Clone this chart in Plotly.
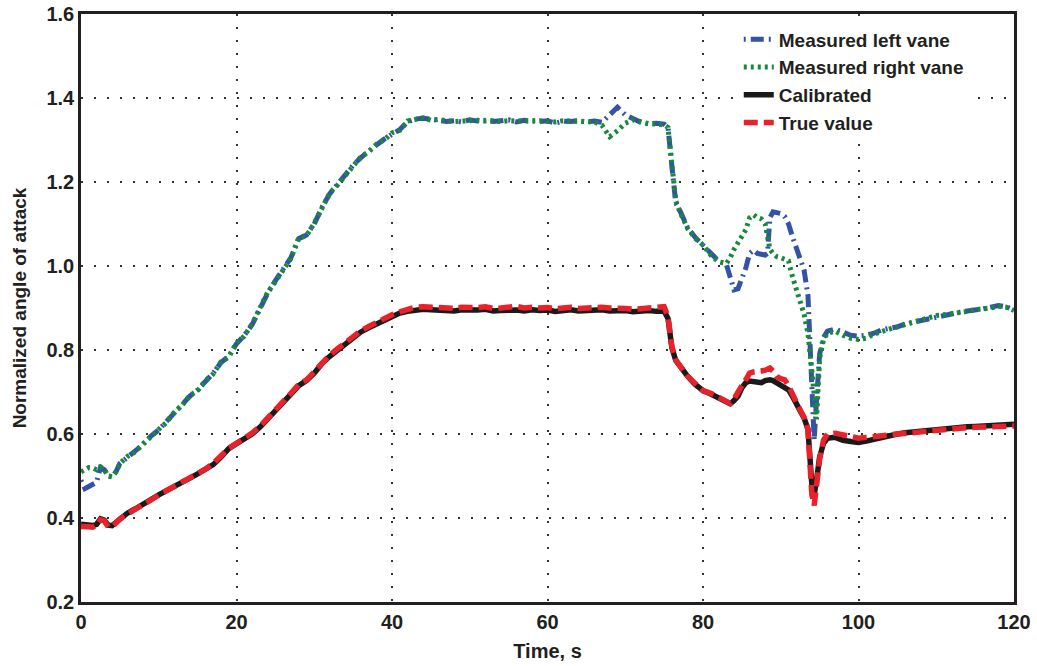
import plotly.graph_objects as go

# time samples (s)
t = [0, 0.5, 1, 1.5, 2, 2.5, 3, 3.5, 4, 4.5, 5,
     6, 7, 8, 9, 10, 11, 12, 13, 14, 15, 16, 17, 18, 19, 20, 21, 22, 23, 24, 25,
     26, 27, 28, 29, 30, 31, 32, 33, 34, 35, 36, 37, 38, 39, 40, 41, 42, 43, 44,
     45, 46, 47, 48, 49, 50, 51, 52, 53, 54, 55, 56, 57, 58, 59, 60, 61, 62, 63, 64,
     65, 66, 67, 68, 69, 70, 71, 72, 73, 74,
     75, 75.5, 76, 76.5, 77, 77.5, 78, 79, 80, 81, 82, 83, 83.5, 84, 84.5, 85, 85.5,
     86, 86.5, 87, 87.5, 88, 88.3, 88.6, 89, 89.5, 90, 90.5, 91, 91.5, 92, 92.5, 93,
     93.5, 94, 94.3, 94.6, 95, 95.5, 96,
     97, 98, 99, 100, 101, 102, 103, 104, 105, 106, 107, 108, 109, 110, 111, 112, 113,
     114, 115, 116, 117, 118, 119, 120]

left_vane = [0.49, 0.47, 0.475, 0.48, 0.485, 0.52, 0.515, 0.50, 0.498, 0.51, 0.53,
             0.545, 0.56, 0.575, 0.595, 0.61, 0.63, 0.65, 0.67, 0.69, 0.705, 0.725, 0.745, 0.77, 0.785,
             0.815, 0.835, 0.86, 0.90, 0.935, 0.965, 0.99, 1.02, 1.065, 1.074, 1.10, 1.14, 1.172, 1.195,
             1.215, 1.24, 1.258, 1.274, 1.288, 1.302, 1.315, 1.325, 1.343, 1.350, 1.352,
             1.349, 1.347, 1.344, 1.346, 1.343, 1.348, 1.345, 1.347, 1.344, 1.346, 1.348, 1.343, 1.347,
             1.345, 1.344, 1.346, 1.340, 1.345, 1.344, 1.346, 1.343, 1.345, 1.342,
             1.360, 1.378, 1.360, 1.350, 1.342, 1.338, 1.340,
             1.338, 1.33, 1.237, 1.150, 1.133, 1.11, 1.092, 1.068, 1.048, 1.028, 1.012, 1.004, 0.975,
             0.943, 0.946, 0.97, 0.995, 1.03, 1.038, 1.030, 1.028, 1.026, 1.03, 1.115, 1.129, 1.128,
             1.125, 1.118, 1.10, 1.07, 1.04, 1.014, 0.99, 0.93, 0.67, 0.585, 0.68, 0.79, 0.83, 0.845,
             0.85, 0.842, 0.835, 0.833, 0.835, 0.84, 0.848, 0.852, 0.855, 0.862, 0.866, 0.872, 0.877,
             0.88, 0.883, 0.887, 0.89, 0.893, 0.895, 0.898, 0.902, 0.906, 0.903, 0.895]

right_vane = [0.51, 0.515, 0.52, 0.519, 0.515, 0.522, 0.515, 0.50, 0.498, 0.51, 0.53,
              0.547, 0.558, 0.577, 0.593, 0.612, 0.628, 0.652, 0.668, 0.692, 0.703, 0.727, 0.743, 0.772,
              0.783, 0.817, 0.833, 0.862, 0.898, 0.937, 0.963, 0.992, 1.018, 1.067, 1.072, 1.102, 1.138,
              1.174, 1.193, 1.217, 1.238, 1.260, 1.272, 1.290, 1.300, 1.317, 1.323, 1.345, 1.348, 1.353,
              1.347, 1.349, 1.346, 1.344, 1.345, 1.346, 1.347, 1.345, 1.346, 1.344, 1.346, 1.345, 1.345,
              1.347, 1.346, 1.344, 1.343, 1.346, 1.345, 1.344, 1.345, 1.343, 1.335,
              1.308, 1.322, 1.340, 1.348, 1.343, 1.339, 1.338,
              1.336, 1.33, 1.24, 1.155, 1.13, 1.108, 1.09, 1.066, 1.05, 1.026, 1.01, 1.006, 1.02,
              1.04, 1.055, 1.07, 1.086, 1.115, 1.122, 1.115, 1.112, 1.10, 1.07, 1.04, 1.03, 1.022,
              1.02, 1.016, 1.012, 0.975, 0.94, 0.915, 0.885, 0.84, 0.75, 0.68, 0.635, 0.78, 0.825, 0.84,
              0.845, 0.835, 0.828, 0.825, 0.828, 0.838, 0.845, 0.85, 0.855, 0.86, 0.867, 0.873, 0.876,
              0.882, 0.884, 0.886, 0.889, 0.892, 0.896, 0.897, 0.900, 0.904, 0.902, 0.894]

calibrated = [0.385, 0.383, 0.383, 0.382, 0.385, 0.398, 0.395, 0.383, 0.382, 0.39, 0.40,
              0.412, 0.422, 0.434, 0.445, 0.455, 0.465, 0.474, 0.485, 0.495, 0.505, 0.515, 0.527, 0.545,
              0.565, 0.577, 0.587, 0.60, 0.616, 0.635, 0.653, 0.676, 0.695, 0.715, 0.727, 0.745, 0.768,
              0.785, 0.80, 0.816, 0.83, 0.843, 0.853, 0.862, 0.872, 0.881, 0.888, 0.892, 0.895, 0.897,
              0.896, 0.894, 0.895, 0.893, 0.896, 0.894, 0.895, 0.897, 0.893, 0.894,
              0.896, 0.895, 0.893, 0.896, 0.894, 0.895, 0.892, 0.894, 0.896, 0.893,
              0.895, 0.894, 0.896, 0.893, 0.895, 0.894, 0.891, 0.893, 0.894, 0.892,
              0.893, 0.875, 0.805, 0.775, 0.762, 0.750, 0.738, 0.718, 0.703, 0.695, 0.686, 0.678, 0.672,
              0.68, 0.69, 0.71, 0.722, 0.726, 0.725, 0.722, 0.722, 0.727, 0.729, 0.729, 0.727, 0.722,
              0.718, 0.712, 0.705, 0.690, 0.675, 0.655, 0.638, 0.612, 0.48, 0.455, 0.49, 0.545, 0.578, 0.59,
              0.592, 0.585, 0.582, 0.58, 0.583, 0.588, 0.593, 0.597, 0.60, 0.603, 0.605, 0.607, 0.61,
              0.612, 0.613, 0.615, 0.616, 0.617, 0.618, 0.619, 0.62, 0.622, 0.621, 0.623]

true_value = [0.38, 0.378, 0.379, 0.378, 0.382, 0.396, 0.393, 0.379, 0.38, 0.388, 0.398,
              0.41, 0.42, 0.432, 0.443, 0.455, 0.465, 0.474, 0.484, 0.495, 0.505, 0.516, 0.53, 0.548,
              0.566, 0.578, 0.589, 0.602, 0.618, 0.637, 0.656, 0.678, 0.697, 0.718, 0.729, 0.748, 0.770,
              0.788, 0.803, 0.818, 0.833, 0.846, 0.856, 0.866, 0.876, 0.884, 0.891, 0.896, 0.902, 0.903,
              0.902, 0.900, 0.901, 0.899, 0.902, 0.900, 0.901, 0.903, 0.899, 0.900,
              0.902, 0.904, 0.900, 0.902, 0.900, 0.901, 0.898, 0.900, 0.902, 0.899,
              0.901, 0.900, 0.902, 0.900, 0.901, 0.899, 0.897, 0.899, 0.900, 0.902,
              0.903, 0.879, 0.808, 0.776, 0.763, 0.752, 0.738, 0.720, 0.703, 0.697, 0.687, 0.677, 0.673,
              0.684, 0.697, 0.715, 0.729, 0.745, 0.748, 0.748, 0.750, 0.752, 0.755, 0.757, 0.750, 0.736,
              0.732, 0.729, 0.715, 0.692, 0.676, 0.657, 0.640, 0.610, 0.455, 0.43, 0.475, 0.54, 0.585, 0.60,
              0.602, 0.597, 0.594, 0.59, 0.592, 0.595, 0.597, 0.598, 0.60, 0.602, 0.604, 0.605, 0.607,
              0.61, 0.611, 0.613, 0.614, 0.615, 0.616, 0.617, 0.617, 0.618, 0.617, 0.619]

x_ticks = [0, 20, 40, 60, 80, 100, 120]
y_ticks = [0.2, 0.4, 0.6, 0.8, 1.0, 1.2, 1.4, 1.6]

FONT = "Liberation Sans, Arial, Helvetica, sans-serif"

fig = go.Figure()
fig.add_trace(go.Scatter(x=t, y=left_vane, mode="lines", name="Measured left vane",
                         line=dict(color="#3553a6", width=5, dash="2px,5px,13px,5px")))
fig.add_trace(go.Scatter(x=t, y=right_vane, mode="lines", name="Measured right vane",
                         line=dict(color="#17893b", width=5, dash="3px,4px")))
fig.add_trace(go.Scatter(x=t, y=calibrated, mode="lines", name="Calibrated",
                         line=dict(color="#1a1a1a", width=5.5)))
fig.add_trace(go.Scatter(x=t, y=true_value, mode="lines", name="True value",
                         line=dict(color="#e8222b", width=5.5, dash="14px,6px")))

fig.update_layout(
    width=1037, height=666,
    margin=dict(l=81, r=23, t=14, b=64, autoexpand=False),
    paper_bgcolor="white", plot_bgcolor="white",
    font=dict(family=FONT, size=19, color="#231f20"),
    showlegend=True,
    legend=dict(x=0.705, y=0.989, xanchor="left", yanchor="top",
                bgcolor="white", borderwidth=0,
                font=dict(family=FONT, size=19, color="#231f20", weight="bold"),
                tracegroupgap=0),
    xaxis=dict(range=[0, 120], tickvals=x_ticks, showgrid=True, automargin=False,
               gridcolor="#333333", gridwidth=1.5, griddash="2px,11px",
               showline=True, linecolor="#231f20", linewidth=2.5, mirror=True,
               ticks="", zeroline=False,
               tickfont=dict(family=FONT, size=20, weight="bold"),
               title=dict(text="Time, s", font=dict(family=FONT, size=20, weight="bold"), standoff=13)),
    yaxis=dict(range=[0.2, 1.6], tickvals=y_ticks, tickformat=".1f", showgrid=True, automargin=False,
               gridcolor="#333333", gridwidth=1.5, griddash="2px,11px",
               showline=True, linecolor="#231f20", linewidth=2.5, mirror=True,
               ticks="", zeroline=False,
               tickfont=dict(family=FONT, size=20, weight="bold"),
               title=dict(text="Normalized angle of attack", font=dict(family=FONT, size=19, weight="bold"), standoff=15)),
)

fig.write_html("out.html")
